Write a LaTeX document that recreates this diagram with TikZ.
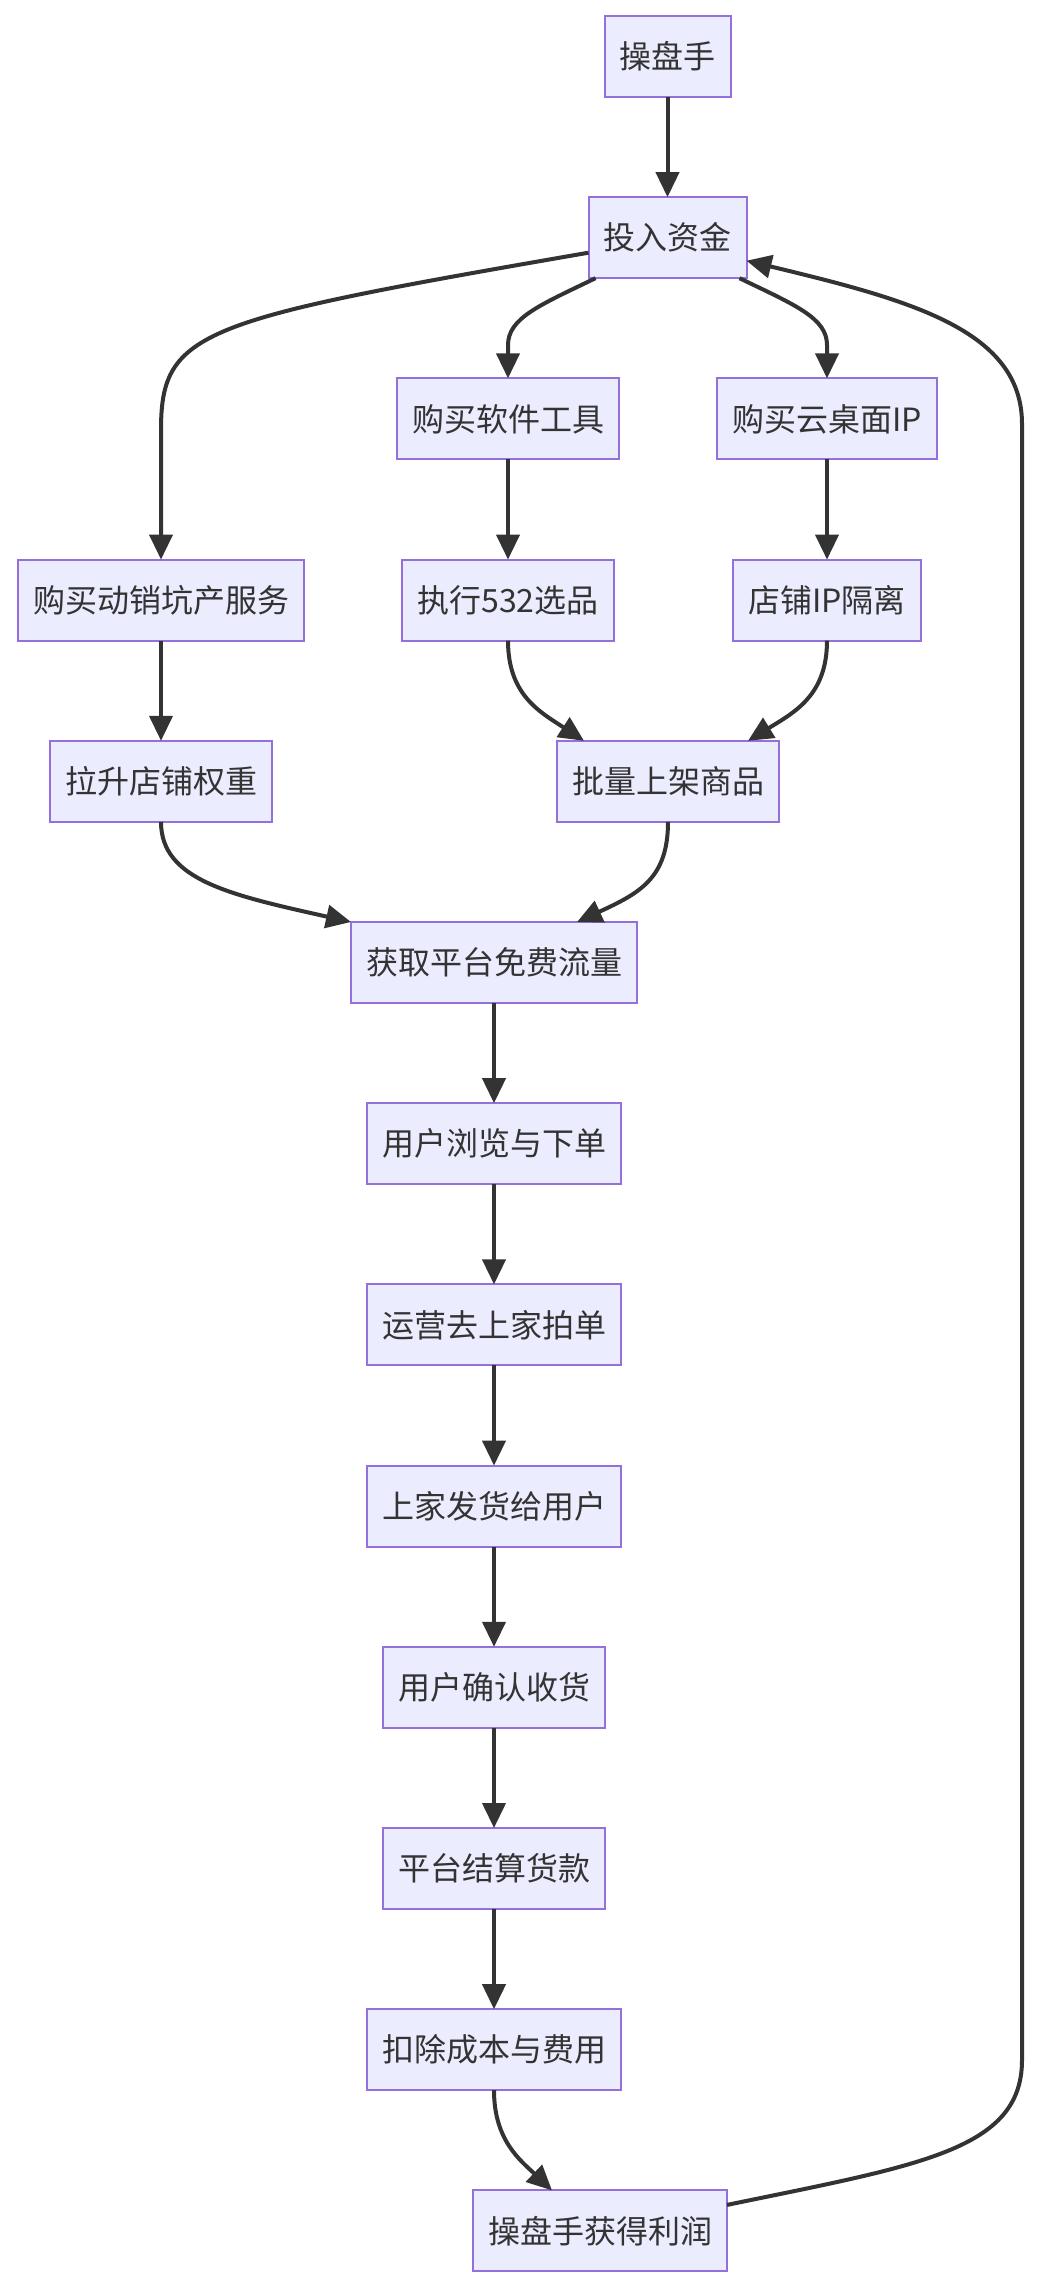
\documentclass[tikz,border=0pt]{standalone}
\usepackage{fontspec}
\setmainfont{Noto Sans CJK SC}
\usepackage{tikz}
\usetikzlibrary{arrows.meta,calc}
\definecolor{boxfill}{HTML}{ECECFF}
\definecolor{boxline}{HTML}{9370DB}
\definecolor{ink}{HTML}{333333}

\begin{document}
\begin{tikzpicture}[x=0.5pt,y=-0.5pt,
		box/.style={draw=boxline,fill=boxfill,line width=1pt,text=ink,font=\fontsize{16}{19}\selectfont,inner xsep=7.5pt,minimum height=40.5pt,outer sep=0pt},
		flow/.style={draw=ink,line width=2pt,line join=round,-{Triangle[length=12.5pt,width=11.5pt]}}]
			\useasboundingbox (0,0) rectangle (1040,2290);

			% top part
			\node [box] (boss) at (667.5,56.5) {操盘手};
			\node [box] (invest) at (667.5,237.7) {投入资金};
			\node [box] (software) at (508,418.9) {购买软件工具};
			\node [box] (cloud) at (827,418.9) {购买云桌面IP};
			\node [box] (dongxiao) at (161,600.1) {购买动销坑产服务};
			\node [box] (xuanpin) at (508,600.1) {执行532选品};
			\node [box] (geli) at (827,600.1) {店铺IP隔离};
			\node [box] (lasheng) at (161,781.3) {拉升店铺权重};
			\node [box] (piliang) at (668,781.3) {批量上架商品};

			% main chain
			\node [box] (huoqu) at (494,962.5) {获取平台免费流量};
			\node [box] (liulan) at (494,1143.7) {用户浏览与下单};
			\node [box] (paidan) at (494,1324.9) {运营去上家拍单};
			\node [box] (fahuo) at (494,1506.1) {上家发货给用户};
			\node [box] (shouhuo) at (494,1687.3) {用户确认收货};
			\node [box] (jiesuan) at (494,1868.5) {平台结算货款};
			\node [box] (kouchu) at (494,2049.7) {扣除成本与费用};
			\node [box] (lirun) at (600,2230.9) {操盘手获得利润};

			\draw [flow] (boss) -- (invest);
			\draw [flow] ($(invest.west)+(0,15)$) .. controls (200,320) and (161,330) .. (161,430) -- (dongxiao.north);
			\draw [flow] ($(invest.south)+(-72,0)$) .. controls (540,305) and (508,318) .. (508,345) -- (software.north);
			\draw [flow] ($(invest.south)+(72,0)$) .. controls (795,305) and (827,318) .. (827,345) -- (cloud.north);
			\draw [flow] (software) -- (xuanpin);
			\draw [flow] (cloud) -- (geli);
			\draw [flow] (dongxiao) -- (lasheng);
			\draw [flow] (xuanpin.south) .. controls (508,695) and (540,712) .. ($(piliang.north)+(-84,0)$);
			\draw [flow] (geli.south) .. controls (827,695) and (795,712) .. ($(piliang.north)+(80,0)$);
			\draw [flow] (lasheng.south) .. controls (161,880) and (230,895) .. (huoqu.north west);
			\draw [flow] (piliang.south) .. controls (668,878) and (640,893) .. ($(huoqu.north)+(83,0)$);

			\draw [flow] (huoqu) -- (liulan);
			\draw [flow] (liulan) -- (paidan);
			\draw [flow] (paidan) -- (fahuo);
			\draw [flow] (fahuo) -- (shouhuo);
			\draw [flow] (shouhuo) -- (jiesuan);
			\draw [flow] (jiesuan) -- (kouchu);
			\draw [flow] (kouchu.south) .. controls (494,2140) and (520,2160) .. ($(lirun.north)+(-48,0)$);

			% profit goes back in
			\draw [flow] ($(lirun.east)+(0,-26)$) .. controls (920,2165) and (1022,2150) .. (1022,2060) -- (1022,424) .. controls (1022,330) and (910,300) .. ($(invest.east)+(0,23)$);
		\end{tikzpicture}
\end{document}
